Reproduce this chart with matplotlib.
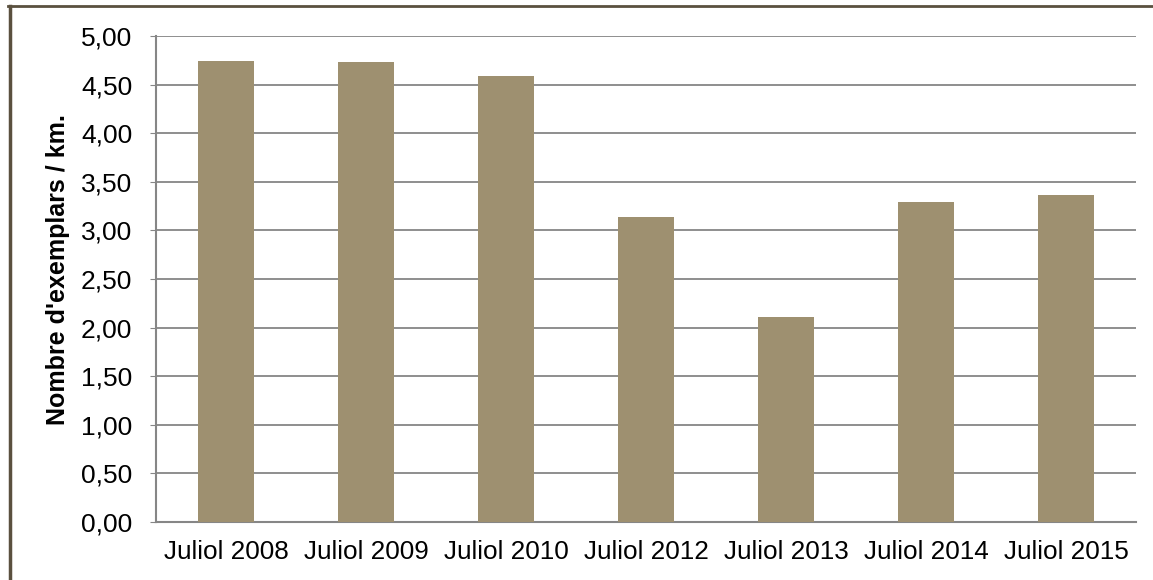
import matplotlib.pyplot as plt
from matplotlib.lines import Line2D
from matplotlib.ticker import FuncFormatter

CATEGORIES = ['Juliol 2008', 'Juliol 2009', 'Juliol 2010', 'Juliol 2012',
              'Juliol 2013', 'Juliol 2014', 'Juliol 2015']
VALUES = [4.74, 4.73, 4.59, 3.14, 2.11, 3.29, 3.36]
Y_TICKS = [0.0, 0.5, 1.0, 1.5, 2.0, 2.5, 3.0, 3.5, 4.0, 4.5, 5.0]

BAR_COLOR = '#9e9070'
GRID_COLOR = '#868686'
FRAME_COLOR = '#5a503f'


def main():
    plt.rcParams['font.family'] = ['Liberation Sans', 'DejaVu Sans']
    fig = plt.figure(figsize=(11.53, 5.80), dpi=100)
    ax = fig.add_axes([0.1353, 0.1, 0.85, 0.8379])

    x = range(len(CATEGORIES))
    ax.bar(x, VALUES, width=0.4, color=BAR_COLOR, zorder=3)

    ax.set_xlim(-0.5, len(CATEGORIES) - 0.5)
    ax.set_ylim(0, 5)
    ax.set_yticks(Y_TICKS)
    ax.yaxis.set_major_formatter(FuncFormatter(lambda v, _: f'{v:.2f}'.replace('.', ',')))
    ax.set_xticks(list(x))
    ax.set_xticklabels(CATEGORIES)

    ax.grid(axis='y', color=GRID_COLOR, linewidth=1.3, zorder=0)
    for side in ('top', 'right'):
        ax.spines[side].set_visible(False)
    for side in ('left', 'bottom'):
        ax.spines[side].set_color(GRID_COLOR)
        ax.spines[side].set_linewidth(1.5)

    ax.tick_params(axis='y', labelsize=19, length=4, color=GRID_COLOR, pad=13)
    ax.tick_params(axis='x', labelsize=18.8, length=0, pad=13)
    ax.set_ylabel("Nombre d'exemplars / km.", fontsize=18, fontweight='bold')
    ax.yaxis.set_label_coords(-0.088, 0.52)

    # outer chart frame (top and left edges only)
    fig.add_artist(Line2D([0.007, 1.0], [0.989, 0.989], transform=fig.transFigure,
                          color=FRAME_COLOR, linewidth=2))
    fig.add_artist(Line2D([0.0085, 0.0085], [0.0, 0.99], transform=fig.transFigure,
                          color=FRAME_COLOR, linewidth=2.5))

    fig.savefig('out.png')


if __name__ == '__main__':
    main()
